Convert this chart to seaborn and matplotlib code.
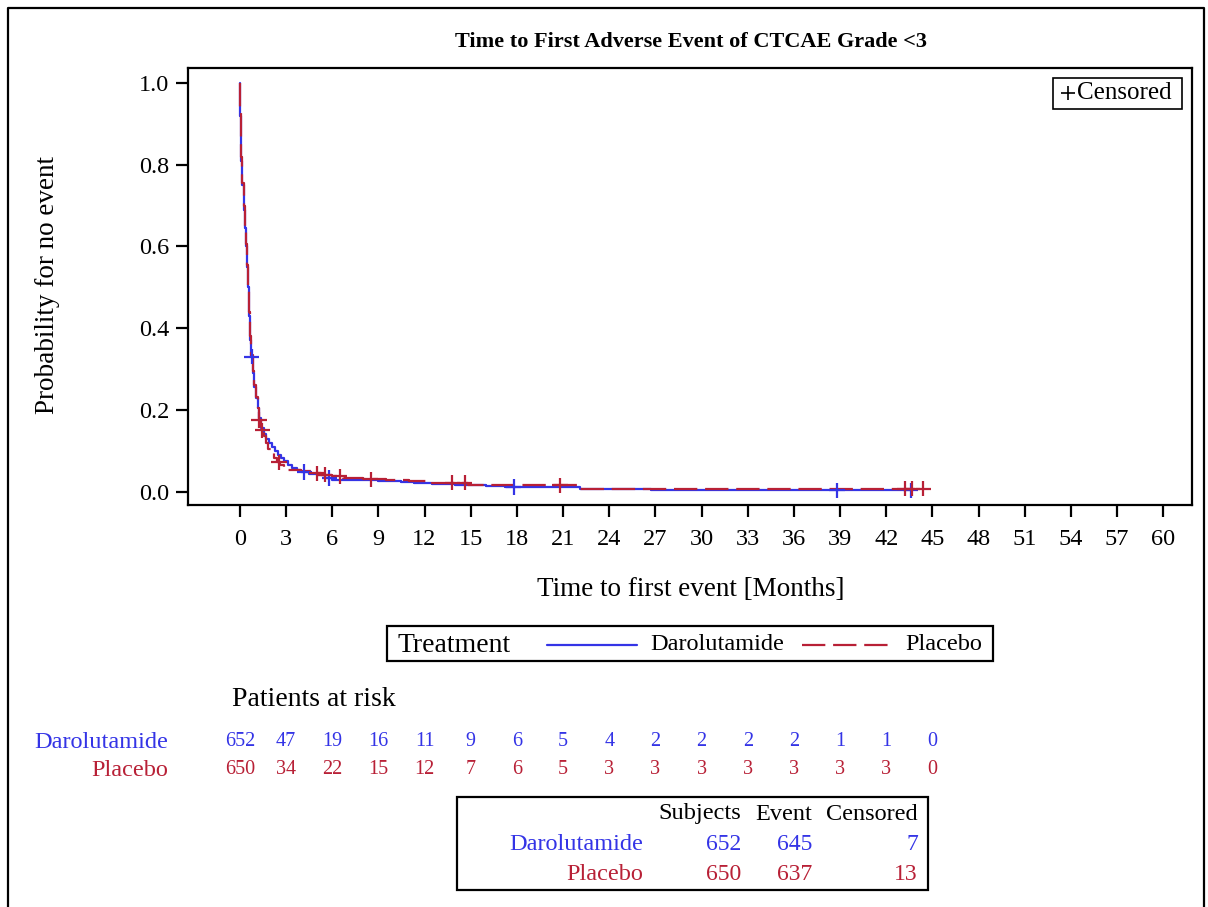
import numpy as np
import pandas as pd
import matplotlib
matplotlib.use("Agg")
import matplotlib.pyplot as plt
import matplotlib.transforms as mtransforms
from matplotlib.lines import Line2D
from matplotlib.patches import Rectangle
import seaborn as sns

sns.set_theme(style="white")
plt.rcParams["font.family"] = ["Liberation Serif", "DejaVu Serif"]
plt.rcParams["text.color"] = "black"
plt.rcParams["axes.labelcolor"] = "black"
plt.rcParams["xtick.color"] = "black"
plt.rcParams["ytick.color"] = "black"

# ---- data -------------------------------------------------------------
arms = ["Darolutamide", "Placebo"]

# Kaplan-Meier step estimates: time (months) and probability for no event
daro_time = [0, 0.03, 0.1, 0.17, 0.25, 0.33, 0.4, 0.48, 0.55, 0.62, 0.68, 0.75,
             0.85, 0.95, 1.05, 1.15, 1.25, 1.4, 1.55, 1.7, 1.9, 2.1, 2.3, 2.5,
             2.7, 2.9, 3.1, 3.4, 3.7, 4.0, 4.5, 5.0, 5.5, 6.0, 7.5, 9.0, 10.5,
             11.3, 12.5, 14.0, 16.0, 17.2, 19.5, 22.1, 26.7, 43.6]
daro_surv = [1.0, 0.92, 0.81, 0.75, 0.69, 0.645, 0.60, 0.55, 0.50, 0.43, 0.37,
             0.33, 0.29, 0.255, 0.228, 0.205, 0.18, 0.155, 0.14, 0.128, 0.12,
             0.108, 0.098, 0.09, 0.082, 0.074, 0.066, 0.058, 0.052, 0.048,
             0.044, 0.040, 0.033, 0.029, 0.027, 0.026, 0.024, 0.020, 0.019,
             0.017, 0.014, 0.011, 0.010, 0.007, 0.003, 0.003]

plac_time = [0, 0.03, 0.1, 0.17, 0.25, 0.33, 0.4, 0.48, 0.55, 0.62, 0.68, 0.75,
             0.85, 0.95, 1.05, 1.15, 1.25, 1.4, 1.55, 1.7, 1.85, 2.0, 2.2, 2.4,
             2.6, 2.85, 3.0, 4.0, 4.8, 5.3, 6.0, 6.7, 8.0, 9.5, 11.0, 12.5,
             14.8, 16.0, 21.5, 22.1, 44.4]
plac_surv = [1.0, 0.93, 0.82, 0.755, 0.70, 0.65, 0.605, 0.555, 0.505, 0.44,
             0.38, 0.335, 0.295, 0.26, 0.232, 0.205, 0.175, 0.15, 0.135, 0.12,
             0.105, 0.095, 0.082, 0.072, 0.066, 0.058, 0.053, 0.050, 0.045,
             0.041, 0.037, 0.034, 0.030, 0.028, 0.025, 0.022, 0.017, 0.015,
             0.015, 0.007, 0.007]

# censoring times (months)
daro_censor = [0.76, 4.18, 5.8, 17.8, 38.8, 43.6]
plac_censor = [1.25, 1.47, 2.55, 5.0, 5.5, 6.5, 8.5, 13.8, 14.6, 20.8,
               43.2, 43.7, 44.4]

# patients at risk
risk_times = [0, 3, 6, 9, 12, 15, 18, 21, 24, 27, 30, 33, 36, 39, 42, 45]
daro_at_risk = [652, 47, 19, 16, 11, 9, 6, 5, 4, 2, 2, 2, 2, 1, 1, 0]
plac_at_risk = [650, 34, 22, 15, 12, 7, 6, 5, 3, 3, 3, 3, 3, 3, 3, 0]

# summary table
summary_cols = ["Subjects", "Event", "Censored"]
daro_summary = [652, 645, 7]
plac_summary = [650, 637, 13]

x_ticks = list(range(0, 61, 3))
y_ticks = [0.0, 0.2, 0.4, 0.6, 0.8, 1.0]

# ---- styling ----------------------------------------------------------
BLUE = "#3434E6"
RED = "#B82036"
palette = {"Darolutamide": BLUE, "Placebo": RED}
DASH = (10.5, 3.5)
dashes = {"Darolutamide": "", "Placebo": DASH}

W, H = 1208, 907
fig = plt.figure(figsize=(W / 100, H / 100), dpi=100)


def fx(px):
    return px / W


def fy(py):
    return 1 - py / H


ax = fig.add_axes([fx(188), fy(505), fx(1192) - fx(188), fy(68) - fy(505)])

curves = pd.concat([
    pd.DataFrame({"time": daro_time, "surv": daro_surv, "arm": arms[0]}),
    pd.DataFrame({"time": plac_time, "surv": plac_surv, "arm": arms[1]}),
], ignore_index=True)


def step_at(times, survs, t):
    idx = np.searchsorted(np.asarray(times), t, side="right") - 1
    return np.asarray(survs)[idx]


censors = pd.concat([
    pd.DataFrame({"time": daro_censor,
                  "surv": step_at(daro_time, daro_surv, daro_censor),
                  "arm": arms[0]}),
    pd.DataFrame({"time": plac_censor,
                  "surv": step_at(plac_time, plac_surv, plac_censor),
                  "arm": arms[1]}),
], ignore_index=True)

sns.lineplot(data=curves, x="time", y="surv", hue="arm", style="arm",
             palette=palette, dashes=dashes, drawstyle="steps-post",
             estimator=None, sort=False, linewidth=1.6, legend=False, ax=ax)
sns.scatterplot(data=censors, x="time", y="surv", hue="arm", palette=palette,
                marker="+", s=120, linewidth=1.6, legend=False, ax=ax, zorder=3)

ax.set_xlim(-3.37, 61.87)
ax.set_ylim(-0.033, 1.037)
ax.set_xticks(x_ticks)
ax.set_yticks(y_ticks)
ax.set_yticklabels([f"{v:.1f}" for v in y_ticks])
ax.set_xlabel("")
ax.set_ylabel("")
for s in ax.spines.values():
    s.set_visible(True)
    s.set_color("black")
    s.set_linewidth(1.6)
ax.tick_params(axis="both", which="major", direction="out", length=8.5,
               width=1.6, color="black", labelsize=17.5, labelcolor="black",
               bottom=True, left=True)
ax.tick_params(axis="x", pad=9)
ax.tick_params(axis="y", pad=5)

# titles and axis labels
fig.text(fx(691), fy(42), "Time to First Adverse Event of CTCAE Grade <3",
         ha="center", va="center", fontsize=16, fontweight="bold")
fig.text(fx(48), fy(285), "Probability for no event", rotation=90,
         ha="center", va="center", fontsize=19.5)
fig.text(fx(691), fy(590), "Time to first event [Months]",
         ha="center", va="center", fontsize=19.5)

# censored legend inside the plot area
fig.patches.append(Rectangle((fx(1053), fy(109)), fx(1182) - fx(1053),
                             fy(78) - fy(109), transform=fig.transFigure,
                             fill=False, edgecolor="black", linewidth=1.2))
fig.lines.append(Line2D([fx(1068)], [fy(93)], transform=fig.transFigure,
                        marker="+", markersize=10, markeredgewidth=1.2,
                        color="black", linestyle="none"))
fig.text(fx(1077), fy(93), "Censored", ha="left", va="center", fontsize=18)

# treatment legend
fig.patches.append(Rectangle((fx(387), fy(661)), fx(993) - fx(387),
                             fy(626) - fy(661), transform=fig.transFigure,
                             fill=False, edgecolor="black", linewidth=1.6))
fig.text(fx(398), fy(645), "Treatment", ha="left", va="center", fontsize=20)
fig.lines.append(Line2D([fx(547), fx(637)], [fy(645), fy(645)],
                        transform=fig.transFigure, color=BLUE, linewidth=1.6))
fig.text(fx(650), fy(645), "Darolutamide", ha="left", va="center",
         fontsize=17.5)
fig.lines.append(Line2D([fx(802), fx(888)], [fy(645), fy(645)],
                        transform=fig.transFigure, color=RED, linewidth=1.6,
                        dashes=DASH))
fig.text(fx(905), fy(645), "Placebo", ha="left", va="center", fontsize=17.5)

# patients at risk
fig.text(fx(232), fy(700), "Patients at risk", ha="left", va="center",
         fontsize=20)
risk_tr = mtransforms.blended_transform_factory(ax.transData, fig.transFigure)
for label, counts, color, ypx in [(arms[0], daro_at_risk, BLUE, 742),
                                  (arms[1], plac_at_risk, RED, 770)]:
    fig.text(fx(168), fy(ypx), label, ha="right", va="center",
             fontsize=17.5, color=color)
    for t, n in zip(risk_times, counts):
        ax.text(t, fy(ypx), str(n), transform=risk_tr, ha="center",
                va="center", fontsize=14.5, color=color, clip_on=False)

# summary table
fig.patches.append(Rectangle((fx(457), fy(890)), fx(928) - fx(457),
                             fy(797) - fy(890), transform=fig.transFigure,
                             fill=False, edgecolor="black", linewidth=1.6))
col_right = [741, 812, 918]
for name, xr in zip(summary_cols, col_right):
    fig.text(fx(xr), fy(814), name, ha="right", va="center", fontsize=17.5)
for label, vals, color, ypx in [(arms[0], daro_summary, BLUE, 845),
                                (arms[1], plac_summary, RED, 875)]:
    fig.text(fx(643), fy(ypx), label, ha="right", va="center", fontsize=17.5,
             color=color)
    for v, xr in zip(vals, col_right):
        fig.text(fx(xr), fy(ypx), str(v), ha="right", va="center",
                 fontsize=17, color=color)

# outer frame
fig.lines.append(Line2D([fx(8), fx(8), fx(1204), fx(1204)],
                        [fy(910), fy(8), fy(8), fy(910)],
                        transform=fig.transFigure, color="black",
                        linewidth=1.6))

fig.savefig("out.png", dpi=100)
